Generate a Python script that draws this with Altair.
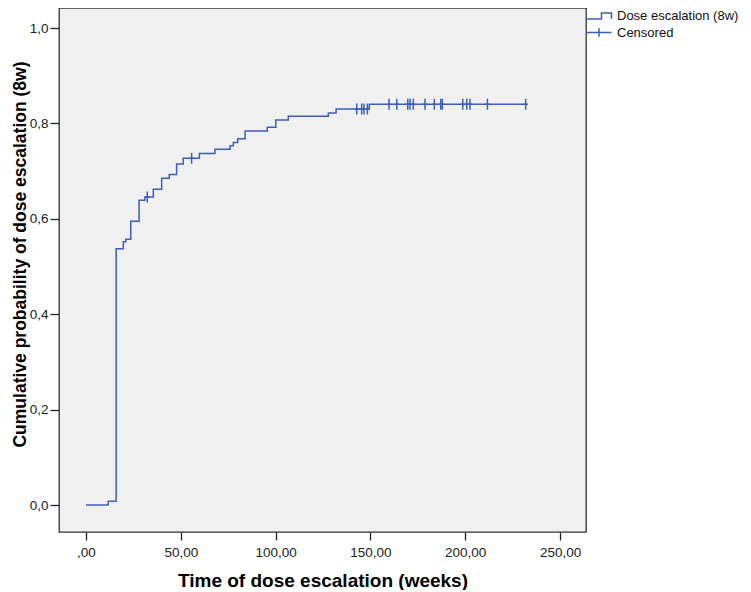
import altair as alt
import pandas as pd

# ---- data (Kaplan-Meier style cumulative curve) ----
step_time = [0.0, 11.7, 15.9, 19.7, 21.0, 23.6, 28.0, 31.0, 35.5, 39.9, 43.9, 47.8,
             51.3, 59.8, 68.0, 76.0, 77.7, 80.0, 83.9, 95.6, 100.1, 106.7, 127.8,
             131.9, 149.4, 231.9]
step_prob = [0.000, 0.008, 0.537, 0.552, 0.557, 0.595, 0.639, 0.646, 0.662, 0.685,
             0.693, 0.715, 0.727, 0.737, 0.746, 0.753, 0.760, 0.768, 0.784, 0.792,
             0.807, 0.815, 0.822, 0.830, 0.840, 0.840]

cens_time = [32.3, 55.7, 142.8, 145.4, 146.6, 148.4, 159.8, 163.9, 169.7, 170.9,
             172.6, 178.8, 183.7, 187.1, 187.9, 198.7, 200.8, 202.5, 211.7, 231.9]
cens_prob = [0.646, 0.727, 0.830, 0.830, 0.830, 0.830, 0.840, 0.840, 0.840, 0.840,
             0.840, 0.840, 0.840, 0.840, 0.840, 0.840, 0.840, 0.840, 0.840, 0.840]

legend_labels = ["Dose escalation (8w)", "Censored"]
x_ticks = [0, 50, 100, 150, 200, 250]
y_ticks = [0.0, 0.2, 0.4, 0.6, 0.8, 1.0]

BLUE = "#3F5DBA"
FONT = "Liberation Sans"

line_df = pd.DataFrame({"t": step_time, "p": step_prob})
cens_df = pd.DataFrame({"t": cens_time, "p": cens_prob,
                        "series": ["Censored"] * len(cens_time)})

x_scale = alt.Scale(domain=[-14.24, 263.7], nice=False, zero=False)
y_scale = alt.Scale(domain=[-0.0566, 1.042], nice=False, zero=False)

x_axis = alt.Axis(
    values=x_ticks,
    labelExpr="datum.value == 0 ? ',00' : replace(format(datum.value, '.2f'), '.', ',')",
    tickSize=8, tickWidth=1.3, tickColor="#222",
    labelPadding=5, labelFontSize=13.5, labelFont=FONT, labelColor="#222",
    domain=False, grid=False,
    title="Time of dose escalation (weeks)", titleFont=FONT, titleFontSize=19,
    titleFontWeight="bold", titleColor="#000", titleBaseline="alphabetic", titleY=54,
)
y_axis = alt.Axis(
    values=y_ticks,
    labelExpr="replace(format(datum.value, '.1f'), '.', ',')",
    tickSize=9, tickWidth=1.3, tickColor="#222",
    labelPadding=2, labelFontSize=13.5, labelFont=FONT, labelColor="#222",
    domain=False, grid=False,
    title="Cumulative probability of dose escalation (8w)", titleFont=FONT,
    titleFontSize=17.5, titleFontWeight="bold", titleColor="#000",
    titleBaseline="alphabetic", titleAngle=270, titleAlign="center",
    titleX=-34, titleY=246,
)

X = alt.X("t:Q", scale=x_scale, axis=x_axis)
Y = alt.Y("p:Q", scale=y_scale, axis=y_axis)

line = alt.Chart(line_df).mark_line(
    interpolate="step-after", color=BLUE, strokeWidth=1.5
).encode(x=X, y=Y)

cens = alt.Chart(cens_df).mark_point(
    shape="M0,-1V1M-0.4,0H0.4", size=121, color=BLUE, strokeWidth=1.5,
    filled=False, opacity=1
).encode(x=X, y=Y)

step_path = "M-2,0.5H0.4V-0.5H2V0.5"
plus_path = "M-2,0H2M0,-0.7V0.7"

legend_layer = alt.Chart(cens_df).mark_point(
    color=BLUE, opacity=0, filled=False, strokeWidth=1.5
).encode(
    x=X, y=Y,
    shape=alt.Shape(
        "series:N",
        scale=alt.Scale(domain=legend_labels, range=[step_path, plus_path]),
        legend=alt.Legend(
            title=None, orient="none", legendX=533, legendY=1,
            symbolSize=156, symbolStrokeWidth=1.5, symbolOpacity=1,
            symbolStrokeColor=BLUE, symbolFillColor="transparent",
            labelFont=FONT, labelFontSize=13, labelColor="#111",
            labelOffset=11, rowPadding=1.5, padding=0,
        ),
    ),
)

chart = alt.layer(line, cens, legend_layer).properties(
    width=527, height=524,
    autosize=alt.AutoSizeParams(type="none"),
    padding={"left": 51, "top": 0, "right": 157, "bottom": 58},
    background="white",
).configure_view(fill="#F0F0F0", stroke="#333", strokeWidth=1.3)

chart.save("out.html", embed_options={"renderer": "svg", "actions": False})
